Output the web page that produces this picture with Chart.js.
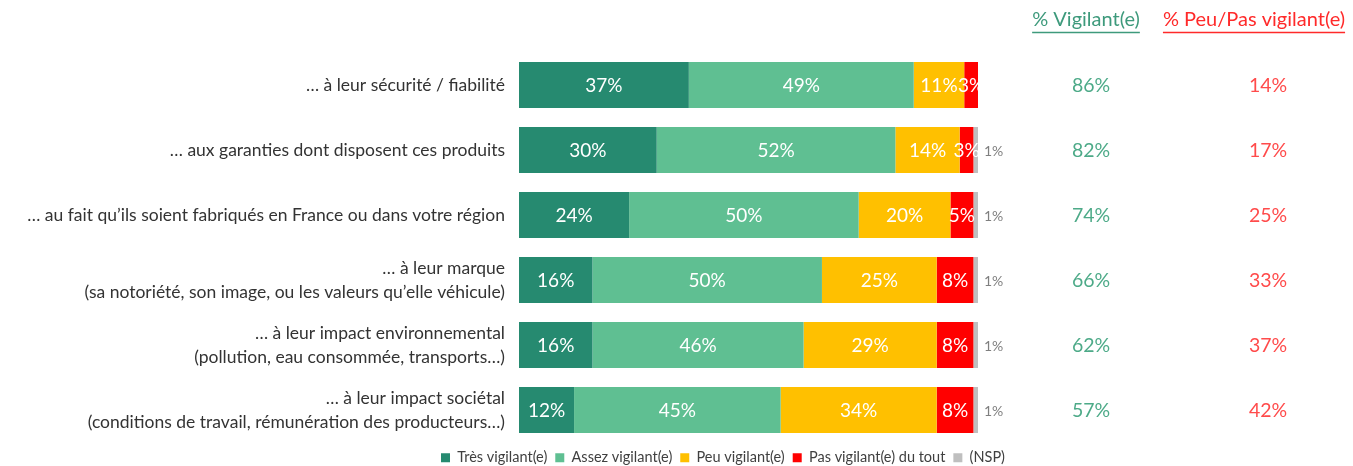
<!DOCTYPE html>
<html>
<head>
<meta charset="utf-8">
<script src="https://cdn.jsdelivr.net/npm/chart.js@4"></script>
<style>
html,body{margin:0;padding:0;background:#fff;}
#wrap{width:1353px;height:466px;position:relative;}
</style>
</head>
<body>
<div id="wrap"><canvas id="c"></canvas></div>
<script>
const categories = [
  ["… à leur sécurité / fiabilité"],
  ["… aux garanties dont disposent ces produits"],
  ["… au fait qu’ils soient fabriqués en France ou dans votre région"],
  ["… à leur marque", "(sa notoriété, son image, ou les valeurs qu’elle véhicule)"],
  ["… à leur impact environnemental", "(pollution, eau consommée, transports…)"],
  ["… à leur impact sociétal", "(conditions de travail, rémunération des producteurs…)"]
];
const seriesNames = ["Très vigilant(e)", "Assez vigilant(e)", "Peu vigilant(e)", "Pas vigilant(e) du tout", "(NSP)"];
const tresVigilant = [37, 30, 24, 16, 16, 12];
const assezVigilant = [49, 52, 50, 50, 46, 45];
const peuVigilant = [11, 14, 20, 25, 29, 34];
const pasVigilant = [3, 3, 5, 8, 8, 8];
const nsp = [0, 1, 1, 1, 1, 1];
const totalVigilant = [86, 82, 74, 66, 62, 57];
const totalPeuPas = [14, 17, 25, 33, 37, 42];
const headerVigilant = "% Vigilant(e)";
const headerPeuPas = "% Peu/Pas vigilant(e)";

const colors = ["#268A70", "#5FBF92", "#FFC000", "#FF0000", "#BFBFBF"];
const FONT = "Lato";

const labelPlugin = {
  id: 'labels',
  afterLayout(chart) {
    // let the long category labels extend left of the axis box without clipping
    chart.scales.y.left = 0;
  },
  afterDatasetsDraw(chart) {
    const ctx = chart.ctx;
    ctx.save();
    ctx.textBaseline = 'middle';
    chart.data.datasets.forEach((ds, di) => {
      const meta = chart.getDatasetMeta(di);
      meta.data.forEach((el, i) => {
        const v = ds.data[i];
        if (!v) return;
        if (di < 4) {
          ctx.fillStyle = '#ffffff';
          ctx.font = '19px ' + FONT;
          ctx.textAlign = 'center';
          ctx.fillText(v + '%', (el.x + el.base) / 2, el.y + 1);
        } else {
          ctx.fillStyle = '#7f7f7f';
          ctx.font = '14px ' + FONT;
          ctx.textAlign = 'left';
          ctx.fillText(v + '%', el.x + 6, el.y + 1);
        }
      });
    });
    ctx.restore();
  },
  afterDraw(chart) {
    const ctx = chart.ctx;
    const y = chart.scales.y;
    ctx.save();
    ctx.textBaseline = 'middle';
    ctx.textAlign = 'center';
    ctx.font = '19.5px ' + FONT;
    categories.forEach((c, i) => {
      const py = y.getPixelForValue(i) + 1;
      ctx.fillStyle = '#4DAA88';
      ctx.fillText(totalVigilant[i] + '%', 1091, py);
      ctx.fillStyle = '#FF4B4B';
      ctx.fillText(totalPeuPas[i] + '%', 1268, py);
    });
    ctx.font = '20px ' + FONT;
    const heads = [[headerVigilant, 1086, '#3E9A7C'], [headerPeuPas, 1254, '#FF2A2A']];
    heads.forEach(([t, x, col]) => {
      ctx.fillStyle = col;
      ctx.strokeStyle = col;
      ctx.fillText(t, x, 20);
      const w = ctx.measureText(t).width;
      ctx.lineWidth = 1.3;
      ctx.beginPath();
      ctx.moveTo(x - w / 2, 32.5);
      ctx.lineTo(x + w / 2, 32.5);
      ctx.stroke();
    });
    ctx.restore();
  }
};

const series = [tresVigilant, assezVigilant, peuVigilant, pasVigilant, nsp];
new Chart(document.getElementById('c'), {
  type: 'bar',
  data: {
    labels: categories,
    datasets: series.map((d, i) => ({
      label: seriesNames[i],
      data: d,
      backgroundColor: colors[i],
      borderWidth: 0,
      barPercentage: 0.708,
      categoryPercentage: 1
    }))
  },
  options: {
    indexAxis: 'y',
    responsive: true,
    maintainAspectRatio: false,
    animation: false,
    layout: { padding: { left: 93, right: 0, top: 52.5, bottom: 0 } },
    scales: {
      x: { stacked: true, min: 0, max: 100, display: false },
      y: {
        stacked: true,
        grid: { display: false },
        border: { display: false },
        ticks: { color: '#333333', font: { family: FONT, size: 17.5, lineHeight: 1.37 }, padding: 6, crossAlign: 'near' },
        afterFit(scale) { scale.width = 426; }
      },
      yRight: {
        type: 'category',
        position: 'right',
        grid: { display: false },
        border: { display: false },
        ticks: { display: false },
        afterFit(scale) { scale.width = 375; }
      }
    },
    plugins: {
      legend: {
        position: 'bottom',
        maxHeight: 23.5,
        labels: { boxWidth: 9, boxHeight: 9, padding: 8, color: '#404040', font: { family: FONT, size: 14.5 } }
      },
      tooltip: { enabled: false }
    }
  },
  plugins: [labelPlugin]
});
</script>
</body>
</html>
